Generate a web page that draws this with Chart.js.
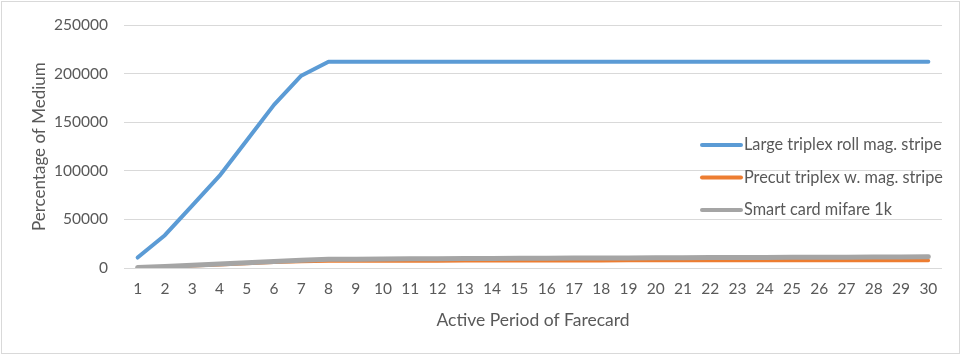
<!DOCTYPE html>
<html>
<head>
<meta charset="utf-8">
<script src="https://cdn.jsdelivr.net/npm/chart.js@4/dist/chart.umd.min.js"></script>
<style>
  html, body { margin: 0; padding: 0; background: #ffffff; }
  #wrap { position: relative; width: 964px; height: 356px; }
</style>
</head>
<body>
<div id="wrap"><canvas id="c" width="964" height="356"></canvas></div>
<script>
const categories = Array.from({length: 30}, (_, i) => String(i + 1));
const seriesNames = ["Large triplex roll mag. stripe", "Precut triplex w. mag. stripe", "Smart card mifare 1k"];
const largeRoll = [10800, 33800, 64300, 94800, 131400, 168000, 198100, 212500, 212500, 212500,
                   212500, 212500, 212500, 212500, 212500, 212500, 212500, 212500, 212500, 212500,
                   212500, 212500, 212500, 212500, 212500, 212500, 212500, 212500, 212500, 212500];
const precut = [0, 1000, 2200, 3400, 4600, 5800, 6600, 7100, 7200, 7200,
                7300, 7300, 7400, 7400, 7400, 7500, 7500, 7500, 7600, 7600,
                7600, 7600, 7700, 7700, 7700, 7700, 7800, 7800, 7800, 7800];
const smartCard = [500, 1600, 2800, 4000, 5300, 6700, 8000, 8900, 9100, 9300,
                   9500, 9600, 9800, 9900, 10000, 10100, 10200, 10300, 10400, 10500,
                   10600, 10700, 10800, 10900, 11000, 11100, 11200, 11300, 11400, 11500];
const yTicks = [0, 50000, 100000, 150000, 200000, 250000];

const colors = ["#5B9BD5", "#ED7D31", "#A5A5A5"];
const widths = [4, 3.5, 5];
const FONT = "Lato, 'Open Sans', sans-serif";
const TEXT = "#595959";

const legendPlugin = {
  id: 'customLegend',
  afterDatasetsDraw(chart) {
    const ctx = chart.ctx;
    const x0 = 702, x1 = 741, tx = 744;
    const ys = [145, 177.5, 210];
    ctx.save();
    ctx.font = "16.3px " + FONT;
    ctx.textBaseline = "middle";
    ctx.textAlign = "left";
    chart.data.datasets.forEach((ds, i) => {
      ctx.strokeStyle = ds.borderColor;
      ctx.lineWidth = 4;
      ctx.lineCap = "round";
      ctx.beginPath();
      ctx.moveTo(x0, ys[i]);
      ctx.lineTo(x1, ys[i]);
      ctx.stroke();
      ctx.fillStyle = TEXT;
      ctx.fillText(ds.label, tx, ys[i]);
    });
    ctx.restore();
  },
  afterDraw(chart) {
    const ctx = chart.ctx;
    ctx.save();
    ctx.strokeStyle = "#d9d9d9";
    ctx.lineWidth = 1;
    ctx.strokeRect(1.5, 1.5, 958, 352);
    ctx.restore();
  }
};

const bgPlugin = {
  id: 'bg',
  beforeDraw(chart) {
    const ctx = chart.ctx;
    ctx.save();
    ctx.fillStyle = "#ffffff";
    ctx.fillRect(0, 0, chart.width, chart.height);
    ctx.restore();
  }
};

new Chart(document.getElementById('c'), {
  type: 'line',
  data: {
    labels: categories,
    datasets: [
      { label: seriesNames[0], data: largeRoll, borderColor: colors[0], backgroundColor: colors[0], borderWidth: widths[0], order: 2 },
      { label: seriesNames[1], data: precut, borderColor: colors[1], backgroundColor: colors[1], borderWidth: widths[1], order: 1 },
      { label: seriesNames[2], data: smartCard, borderColor: colors[2], backgroundColor: colors[2], borderWidth: widths[2], order: 0 }
    ]
  },
  options: {
    responsive: false,
    animation: false,
    devicePixelRatio: 1,
    elements: {
      point: { radius: 0, hoverRadius: 0 },
      line: { tension: 0, borderCapStyle: 'round', borderJoinStyle: 'round', fill: false }
    },
    layout: { padding: { left: 0, right: 22, top: 22, bottom: 0 } },
    plugins: { legend: { display: false }, tooltip: { enabled: false } },
    scales: {
      x: {
        offset: true,
        grid: { display: false, drawTicks: false },
        border: { display: false },
        ticks: { color: TEXT, font: { family: FONT, size: 15.5 }, padding: 12, maxRotation: 0, autoSkip: false },
        title: { display: true, text: "Active Period of Farecard", color: TEXT, font: { family: FONT, size: 17.5 }, padding: { top: 0, bottom: 25 } },
        afterFit(scale) { scale.height = 88; }
      },
      y: {
        min: 0, max: 250000,
        afterBuildTicks(scale) { scale.ticks = yTicks.map(v => ({ value: v })); },
        grid: { color: "#d9d9d9", lineWidth: 1, drawTicks: false },
        border: { display: false },
        ticks: { color: TEXT, font: { family: FONT, size: 15.5 }, padding: 16, callback: v => String(v) },
        title: { display: true, text: "Percentage of Medium", color: TEXT, font: { family: FONT, size: 17 }, padding: { top: 29, bottom: 0 } },
        afterFit(scale) { scale.width = 124; }
      }
    }
  },
  plugins: [bgPlugin, legendPlugin]
});
</script>
</body>
</html>
